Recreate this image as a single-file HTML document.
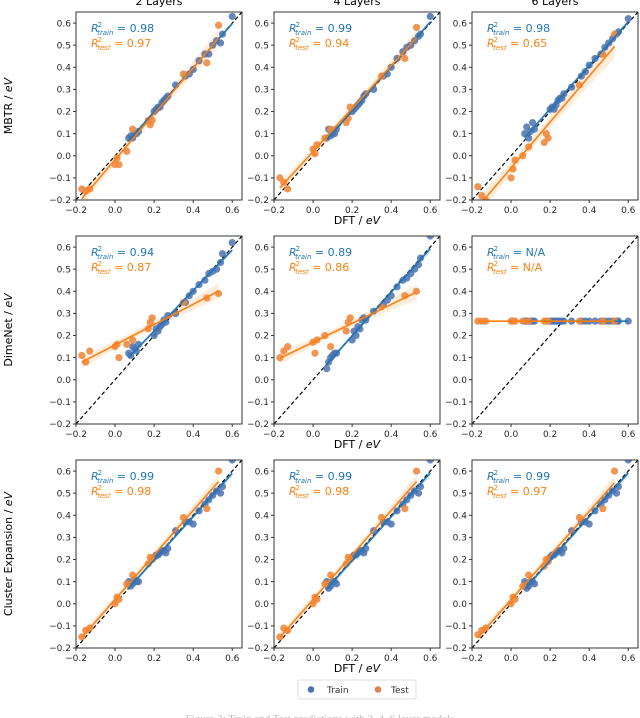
<!DOCTYPE html>
<html><head><meta charset="utf-8">
<style>
html,body{margin:0;padding:0;background:#fff;}
svg{display:block;font-family:"DejaVu Sans","Liberation Sans",sans-serif;}
</style></head>
<body>
<svg id="fig" width="640" height="718" viewBox="0 0 640 718" xmlns="http://www.w3.org/2000/svg"></svg>
<script>
const rowNames = ["MBTR / eV", "DimeNet / eV", "Cluster Expansion / eV"];
const colNames = ["2 Layers", "4 Layers", "6 Layers"];
const xTicks = [-0.2, 0.0, 0.2, 0.4, 0.6];
const yTicks = [-0.2, -0.1, 0.0, 0.1, 0.2, 0.3, 0.4, 0.5, 0.6];
const r2Train = ["0.98","0.99","0.98","0.94","0.89","N/A","0.99","0.99","0.99"];
const r2Test  = ["0.97","0.94","0.65","0.87","0.86","N/A","0.98","0.98","0.97"];
const trainX = [0.07,0.08,0.09,0.10,0.11,0.12,0.20,0.21,0.22,0.23,0.24,0.25,0.26,0.27,0.31,0.36,0.38,0.40,0.43,0.46,0.48,0.50,0.52,0.54,0.55,0.60];
const testX  = [-0.17,-0.15,-0.13,0.00,0.01,0.02,0.06,0.09,0.17,0.18,0.19,0.35,0.47,0.53];
const trainY = [
 [0.08,0.09,0.08,0.10,0.10,0.11,0.20,0.21,0.22,0.22,0.24,0.25,0.26,0.27,0.32,0.36,0.37,0.39,0.43,0.46,0.46,0.50,0.52,0.51,0.55,0.63],
 [0.08,0.12,0.09,0.10,0.10,0.12,0.20,0.21,0.22,0.23,0.24,0.25,0.27,0.28,0.30,0.36,0.37,0.40,0.44,0.47,0.49,0.50,0.52,0.54,0.55,0.63],
 [0.10,0.13,0.08,0.11,0.15,0.12,0.21,0.22,0.21,0.23,0.25,0.26,0.26,0.28,0.31,0.36,0.38,0.41,0.44,0.46,0.49,0.51,0.53,0.55,0.56,0.62],
 [0.12,0.11,0.15,0.14,0.13,0.16,0.20,0.23,0.22,0.24,0.25,0.27,0.26,0.29,0.30,0.35,0.38,0.40,0.43,0.45,0.48,0.49,0.50,0.53,0.57,0.62],
 [0.05,0.08,0.10,0.11,0.12,0.12,0.18,0.22,0.20,0.24,0.23,0.27,0.28,0.27,0.31,0.34,0.36,0.38,0.42,0.45,0.46,0.48,0.50,0.52,0.55,0.65],
 [0.265,0.265,0.265,0.265,0.265,0.265,0.265,0.265,0.265,0.265,0.265,0.265,0.265,0.265,0.265,0.265,0.265,0.265,0.265,0.265,0.265,0.265,0.265,0.265,0.265,0.265],
 [0.10,0.08,0.09,0.11,0.10,0.10,0.21,0.22,0.22,0.23,0.24,0.24,0.23,0.25,0.33,0.37,0.37,0.36,0.42,0.45,0.47,0.49,0.51,0.50,0.53,0.65],
 [0.10,0.07,0.08,0.10,0.10,0.09,0.21,0.22,0.22,0.23,0.24,0.24,0.23,0.25,0.33,0.37,0.37,0.36,0.42,0.45,0.47,0.49,0.51,0.50,0.53,0.65],
 [0.10,0.07,0.08,0.10,0.10,0.09,0.21,0.22,0.22,0.23,0.24,0.24,0.23,0.25,0.33,0.37,0.37,0.36,0.42,0.45,0.47,0.49,0.51,0.50,0.53,0.65]
];
const testY = [
 [-0.15,-0.16,-0.15,-0.04,-0.01,-0.04,0.02,0.12,0.16,0.14,0.16,0.37,0.42,0.59],
 [-0.10,-0.12,-0.15,0.03,0.01,0.05,0.08,0.12,0.15,0.17,0.22,0.36,0.44,0.58],
 [-0.14,-0.18,-0.20,-0.10,-0.06,-0.02,0.00,0.04,0.06,0.10,0.08,0.32,0.46,0.55],
 [0.11,0.08,0.13,0.15,0.16,0.10,0.16,0.18,0.23,0.26,0.28,0.35,0.37,0.39],
 [0.10,0.13,0.15,0.17,0.12,0.18,0.20,0.15,0.22,0.26,0.28,0.33,0.38,0.40],
 [0.265,0.265,0.265,0.265,0.265,0.265,0.265,0.265,0.265,0.265,0.265,0.265,0.265,0.265],
 [-0.15,-0.12,-0.11,0.00,0.03,0.02,0.09,0.13,0.18,0.21,0.20,0.39,0.43,0.60],
 [-0.15,-0.11,-0.12,0.00,0.03,0.02,0.09,0.13,0.18,0.21,0.20,0.39,0.43,0.60],
 [-0.14,-0.12,-0.11,0.00,0.03,0.02,0.08,0.13,0.17,0.20,0.19,0.39,0.43,0.60]
];

const NS = "http://www.w3.org/2000/svg";
const svg = document.getElementById("fig");
const PL = [76, 274, 472], PT = [12, 236, 460], PW = 166, PH = 188;
const VMIN = -0.2, VMAX = 0.65;
function mk(tag, attrs, parent){ const e=document.createElementNS(NS,tag); for(const k in attrs) e.setAttribute(k,attrs[k]); (parent||svg).appendChild(e); return e; }
function fmt(v){ const s=Math.abs(v).toFixed(1); return (v<-1e-9?"\u2212":"")+s; }
function fit(xs, ys){ const n=xs.length; let mx=0,my=0; for(let i=0;i<n;i++){mx+=xs[i];my+=ys[i];} mx/=n; my/=n; let sxy=0,sxx=0; for(let i=0;i<n;i++){sxy+=(xs[i]-mx)*(ys[i]-my); sxx+=(xs[i]-mx)**2;} const b=sxy/sxx; const a=my-b*mx; let r=0; for(let i=0;i<n;i++) r+=(ys[i]-a-b*xs[i])**2; return {a,b,s:Math.sqrt(r/Math.max(1,n-2)),mx,sxx,n}; }

for(let r=0;r<3;r++){
  for(let c=0;c<3;c++){
    const k=r*3+c, L=PL[c], T=PT[r];
    const sx=v=>L+(v-VMIN)/(VMAX-VMIN)*PW;
    const sy=v=>T+PH-(v-VMIN)/(VMAX-VMIN)*PH;
    const g=mk("g",{});
    
    
    const clipId="clip"+k;
    const cp=mk("clipPath",{id:clipId},g); mk("rect",{x:L,y:T,width:PW,height:PH},cp);
    const plot=mk("g",{"clip-path":"url(#"+clipId+")"},g);
    // regression bands and lines
    const fits=[[trainX,trainY[k],"#1f77b4","rgba(31,119,180,0.15)"],[testX,testY[k],"#ff7f0e","rgba(255,127,14,0.15)"]];
    const lines=[];
    fits.forEach(([xs,ys,col,fill],j)=>{
      const f=fit(xs,ys); const x0=Math.min(...xs), x1=Math.max(...xs);
      let up="",dn=""; const N=20;
      for(let i=0;i<=N;i++){ const x=x0+(x1-x0)*i/N; const y=f.a+f.b*x; const se=2*f.s*Math.sqrt(1/f.n+(x-f.mx)**2/f.sxx);
        up+=(i?"L":"M")+sx(x)+","+sy(y+se); dn="L"+sx(x)+","+sy(y-se)+dn; }
      const band=mk("path",{d:up+dn+"Z",fill:fill,stroke:"none"},plot);
      
      
      lines.push([f,x0,x1,col,j]);
    });
    // diagonal
    const dg=mk("line",{x1:sx(VMIN),y1:sy(VMIN),x2:sx(VMAX),y2:sy(VMAX),stroke:"#000","stroke-width":1.2,"stroke-dasharray":"4,2.5"},plot);
    
    
    // points
    trainX.forEach((x,i)=>{ const p=mk("circle",{cx:sx(x),cy:sy(trainY[k][i]),r:3.6,fill:"#4c72b0","fill-opacity":0.85},plot);
      
       });
    testX.forEach((x,i)=>{ const p=mk("circle",{cx:sx(x),cy:sy(testY[k][i]),r:3.6,fill:"#ee8a3f","fill-opacity":0.9},plot);
      
       });
    lines.forEach(([f,x0,x1,col,j])=>{
      const ln=mk("line",{x1:sx(x0),y1:sy(f.a+f.b*x0),x2:sx(x1),y2:sy(f.a+f.b*x1),stroke:col,"stroke-width":1.6},plot);
      
      
    });
    const fr=mk("rect",{x:L,y:T,width:PW,height:PH,fill:"none",stroke:"#333","stroke-width":1},g);
    
    
    xTicks.forEach(v=>{ const x=sx(v); mk("line",{x1:x,y1:T+PH,x2:x,y2:T+PH+3,stroke:"#333"},g);
      const t=mk("text",{x:x,y:T+PH+13,"font-size":9,"text-anchor":"middle",fill:"#262626"},g); t.textContent=fmt(v);
      
       });
    yTicks.forEach(v=>{ const y=sy(v); mk("line",{x1:L-3,y1:y,x2:L,y2:y,stroke:"#333"},g);
      const t=mk("text",{x:L-5,y:y+3.2,"font-size":9,"text-anchor":"end",fill:"#262626"},g); t.textContent=fmt(v);
      
       });
    const t1=mk("text",{x:L+15,y:T+20,"font-size":11,fill:"#1f77b4"},g);
    t1.innerHTML='<tspan font-style="italic">R</tspan><tspan font-size="7" dy="-5" dx="-1">2</tspan><tspan font-size="7" font-style="italic" dy="8" dx="-5">train</tspan><tspan dy="-3"> = '+r2Train[k]+'</tspan>';
    
    
    const t2=mk("text",{x:L+15,y:T+35,"font-size":11,fill:"#ff7f0e"},g);
    t2.innerHTML='<tspan font-style="italic">R</tspan><tspan font-size="7" dy="-5" dx="-1">2</tspan><tspan font-size="7" font-style="italic" dy="8" dx="-5">test</tspan><tspan dy="-3"> = '+r2Test[k]+'</tspan>';
    
    
    if(c===1){ const xl=mk("text",{x:L+PW/2,y:T+PH+24,"font-size":11,"text-anchor":"middle",fill:"#000"},g);
      xl.innerHTML='DFT / <tspan font-style="italic">eV</tspan>';
      
       }
    if(r===0){ const ct=mk("text",{x:L+PW/2,y:5,"font-size":11,"text-anchor":"middle",fill:"#000"},g); ct.textContent=colNames[c];
      
       }
    if(c===0){ const cy=T+PH/2; const yl=mk("text",{x:12,y:cy,"font-size":11,"text-anchor":"middle",fill:"#000",transform:"rotate(-90 12 "+cy+")"},g);
      yl.innerHTML=rowNames[r].replace(" / eV",' / <tspan font-style="italic">eV</tspan>');
      
       }
  }
}
// legend
const lg=mk("g",{});


mk("rect",{x:298,y:680,width:118,height:19,rx:2,fill:"#fff",stroke:"#ddd"},lg);
const l1=mk("circle",{cx:311,cy:689.5,r:3.3,fill:"#4c72b0"},lg);


const lt1=mk("text",{x:327,y:693,"font-size":9,fill:"#333"},lg); lt1.textContent="Train";
const l2=mk("circle",{cx:378,cy:689.5,r:3.3,fill:"#dd8452"},lg);


const lt2=mk("text",{x:391,y:693,"font-size":9,fill:"#333"},lg); lt2.textContent="Test";
const cap=mk("text",{x:320,y:722,"font-size":11,"text-anchor":"middle",fill:"#bbb","font-family":"Liberation Serif, serif"});
cap.textContent="Figure 3: Train and Test predictions with 2, 4, 6 layer models";


</script>
</body></html>
